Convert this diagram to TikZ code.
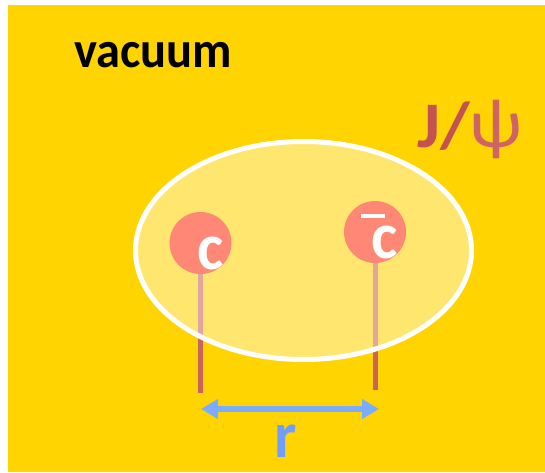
\documentclass[tikz,border=0pt]{standalone}
\usepackage{fontspec}
\setmainfont{Carlito}
\usetikzlibrary{arrows.meta}
\definecolor{gold}{RGB}{255,212,0}
\definecolor{salmon}{RGB}{255,135,118}
\definecolor{stringred}{RGB}{205,98,88}
\definecolor{psired}{RGB}{196,82,80}
\definecolor{psilight}{RGB}{208,100,100}
\definecolor{skyblue}{RGB}{122,172,255}

\begin{document}
\begin{tikzpicture}[x=1pt, y=-1pt, >={Triangle[length=17pt,width=19pt]},
  quark/.style={circle, fill=salmon, minimum size=62pt, inner sep=0pt},
  string/.style={stringred, line width=5pt},
  bigtext/.style={font=\fontsize{66}{66}\selectfont\bfseries, xscale=0.95, inner sep=0pt, anchor=base}]
  % Background with white margin at left and top
  \fill[white] (0,0) rectangle (545,472);
  \fill[gold] (8,5) rectangle (545,472);
  \node[bigtext, font=\fontsize{51}{51}\selectfont\bfseries, anchor=base west] (vac) at (74,67) {vacuum};
  \node[bigtext, font=\fontsize{65}{65}\selectfont\bfseries, anchor=base west, text=psired, xscale=1.12] (jpsi) at (417,147) {J/{\mdseries\fontsize{70}{70}\selectfont\color{psilight}ψ}};
  % Quark positions and strings
  \coordinate (cpos) at (200.5,243);
  \coordinate (cbpos) at (375,232);
  \coordinate (cend) at (200.5,393);
  \coordinate (cbend) at (375,390);
  \draw[string] (cpos) -- (cend);
  \draw[string] (cbpos) -- (cbend);
  % Bound state
  \draw[white, line width=5pt, fill=white, fill opacity=0.43] (303.5,250.5) ellipse [x radius=168, y radius=109];
  \node[quark] (c) at (cpos) {};
  \node[quark] (cb) at (cbpos) {};
  \node[bigtext, text=white] (clab) at (211,269) {c};
  \node[bigtext, text=white] (cblab) at (385,258) {\rlap{\kern-11.5pt\raisebox{40pt}{\rule{25pt}{4pt}}}c};
  % Separation
  \coordinate (rL) at (201,409);
  \coordinate (rR) at (379,409);
  \draw[<->, skyblue, line width=6pt] (rL) -- (rR);
  \node[bigtext, text=skyblue!92!blue] (rlab) at (286,457) {r};
\end{tikzpicture}
\end{document}
